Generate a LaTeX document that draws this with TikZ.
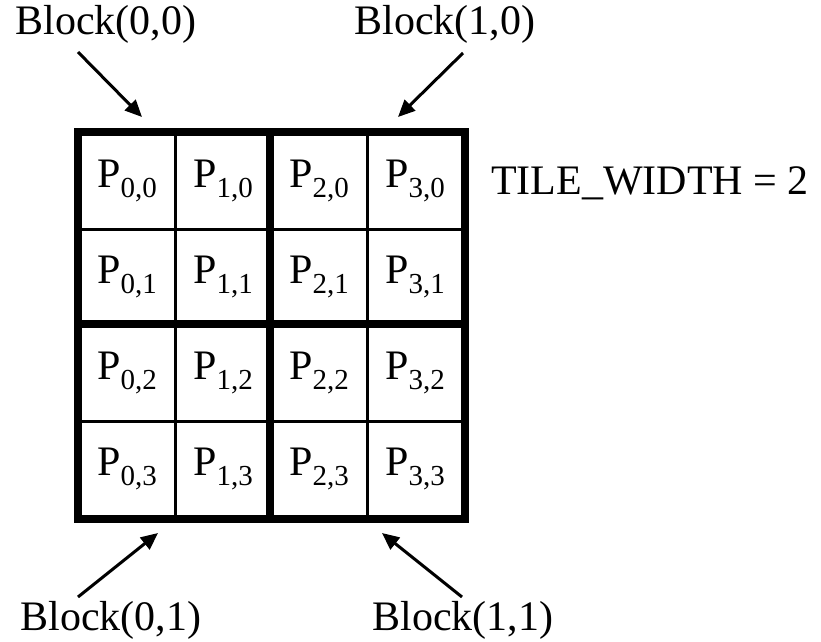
\documentclass[tikz,border=0pt]{standalone}
\usepackage{fontspec}
\setmainfont{Liberation Serif}
\usetikzlibrary{arrows.meta}
\newcommand{\pcell}[2]{P\raisebox{-0.25em}{\fontsize{29}{30}\selectfont #1,#2}}
\begin{document}
\begin{tikzpicture}[
        x=1pt, y=-1pt,
        cell/.style={rectangle, draw, line width=3pt, minimum size=96pt, inner sep=0pt, font=\fontsize{42}{48}\selectfont},
        blocklabel/.style={inner sep=0pt, font=\fontsize{42}{48}\selectfont},
        pointer/.style={-{Triangle[length=17pt,width=15pt]}, line width=3pt},
        tile_edge/.style={line width=8pt}
    ]
        \useasboundingbox (0,0) rectangle (821,641);

        % Row 0
        \node[cell] (p00) at (127,181) {\pcell{0}{0}};
        \node[cell] (p10) at (223,181) {\pcell{1}{0}};
        \node[cell] (p20) at (319,181) {\pcell{2}{0}};
        \node[cell] (p30) at (415,181) {\pcell{3}{0}};

        % Row 1
        \node[cell] (p01) at (127,277) {\pcell{0}{1}};
        \node[cell] (p11) at (223,277) {\pcell{1}{1}};
        \node[cell] (p21) at (319,277) {\pcell{2}{1}};
        \node[cell] (p31) at (415,277) {\pcell{3}{1}};

        % Row 2
        \node[cell] (p02) at (127,373) {\pcell{0}{2}};
        \node[cell] (p12) at (223,373) {\pcell{1}{2}};
        \node[cell] (p22) at (319,373) {\pcell{2}{2}};
        \node[cell] (p32) at (415,373) {\pcell{3}{2}};

        % Row 3
        \node[cell] (p03) at (127,469) {\pcell{0}{3}};
        \node[cell] (p13) at (223,469) {\pcell{1}{3}};
        \node[cell] (p23) at (319,469) {\pcell{2}{3}};
        \node[cell] (p33) at (415,469) {\pcell{3}{3}};

        % Block borders
        \draw[tile_edge] (p00.north west) rectangle (p33.south east);
        \draw[tile_edge] (p20.north west) -- (p23.south west);
        \draw[tile_edge] (p02.north west) -- (p32.north east);

        % Labels
        \node[blocklabel] (block00) at (106,24) {Block(0,0)};
        \node[blocklabel] (block10) at (445,24) {Block(1,0)};
        \node[blocklabel] (block01) at (111,620) {Block(0,1)};
        \node[blocklabel] (block11) at (463,620) {Block(1,1)};
        \node[blocklabel] (tilewidth) at (650,183) {TILE\_WIDTH = 2};

        % Pointers
        \coordinate (block00_tail) at (78,52);
        \coordinate (block00_tip) at (142,117);
        \coordinate (block10_tail) at (463,53);
        \coordinate (block10_tip) at (398,117);
        \coordinate (block01_tail) at (78,597);
        \coordinate (block01_tip) at (158,533);
        \coordinate (block11_tail) at (462,597);
        \coordinate (block11_tip) at (382,533);
        \draw[pointer] (block00_tail) -- (block00_tip);
        \draw[pointer] (block10_tail) -- (block10_tip);
        \draw[pointer] (block01_tail) -- (block01_tip);
        \draw[pointer] (block11_tail) -- (block11_tip);

    \end{tikzpicture}
\end{document}
